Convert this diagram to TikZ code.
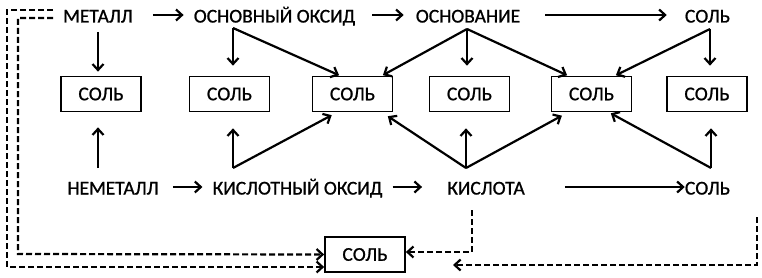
\documentclass[tikz,border=0pt]{standalone}
\usepackage{fontspec}
\setmainfont{Carlito}
\newfontfamily\heavyfont{Carlito}[FakeBold=1]
\usetikzlibrary{arrows.meta,positioning}

\tikzset{
    lbl/.style={inner sep=0pt, text height=16pt, text depth=1pt,
        font=\heavyfont\fontsize{19.5}{21}\selectfont},
    saltbox/.style={draw, line width=1.7pt, minimum width=80pt,
        minimum height=35pt, inner sep=0pt,
        font=\heavyfont\fontsize{19.5}{21}\selectfont},
    arr/.style={line width=2.2pt, -{Straight Barb[length=6pt,width=11pt]}},
    dsh/.style={line width=2.2pt, dash pattern=on 6pt off 3pt,
        -{Straight Barb[length=6pt,width=11pt]}}
}

\begin{document}
\begin{tikzpicture}[x=1pt, y=-1pt]
    \useasboundingbox (0,0) rectangle (762,278);

    % Top row
    \node[lbl] (metal) at (98,15) {МЕТАЛЛ};
    \node[lbl] (oxb) at (274.5,15) {ОСНОВНЫЙ ОКСИД};
    \node[lbl] (base) at (468,15) {ОСНОВАНИЕ};
    \node[lbl] (saltT) at (707.5,15) {СОЛЬ};

    % Bottom row
    \node[lbl] (nonmetal) at (113,187) {НЕМЕТАЛЛ};
    \node[lbl] (oxa) at (297.5,187) {КИСЛОТНЫЙ ОКСИД};
    \node[lbl] (acid) at (486,187) {КИСЛОТА};
    \node[lbl] (saltB) at (707.5,187) {СОЛЬ};

    % Salt boxes
    \node[saltbox] (s1) at (101,94) {СОЛЬ};
    \node[saltbox] (s2) at (229.5,94) {СОЛЬ};
    \node[saltbox] (s3) at (352.5,94) {СОЛЬ};
    \node[saltbox] (s4) at (469.5,94) {СОЛЬ};
    \node[saltbox] (s5) at (591.5,94) {СОЛЬ};
    \node[saltbox] (s6) at (707,94) {СОЛЬ};
    \node[saltbox] (sB) at (365,254.5) {СОЛЬ};

    % Horizontal arrows
    \draw[arr, shorten <=20pt, shorten >=10pt] (metal) -- (oxb);
    \draw[arr, shorten <=17pt, shorten >=12pt] (oxb) -- (base);
    \draw[arr, shorten <=25pt, shorten >=18pt] (base) -- (saltT);
    \draw[arr, shorten <=14pt, shorten >=10pt] (nonmetal) -- (oxa);
    \draw[arr, shorten <=10pt, shorten >=25pt] (oxa) -- (acid);
    \draw[arr, shorten <=40pt, shorten >=0pt] (acid) -- (saltB);

    % Branch points
    \coordinate (metalA) at (98,32);
    \coordinate (oxbA) at (233,28);
    \coordinate (baseA) at (467,29);
    \coordinate (saltTA) at (710,29);
    \coordinate (nonmetalA) at (98,168);
    \coordinate (oxaA) at (233,168);
    \coordinate (acidA) at (466,168);
    \coordinate (saltBA) at (711,168);

    % Top connections
    \draw[arr, shorten >=4pt] (metalA) -- (metalA |- s1.north);
    \draw[arr, shorten >=10pt] (oxbA) -- (oxbA |- s2.north);
    \draw[arr, shorten >=1pt] (oxbA) -- ([xshift=-12.5pt]s3.north);
    \draw[arr, shorten >=1pt] (baseA) -- ([xshift=29.5pt]s3.north);
    \draw[arr, shorten >=10pt] (baseA) -- (baseA |- s4.north);
    \draw[arr, shorten >=1pt] (baseA) -- ([xshift=-23.5pt]s5.north);
    \draw[arr, shorten >=10pt] (saltTA) -- (saltTA |- s6.north);
    \draw[arr, shorten >=1pt] (saltTA) -- ([xshift=23.5pt]s5.north);

    % Bottom connections
    \draw[arr, shorten >=15pt] (nonmetalA) -- (nonmetalA |- s1.south);
    \draw[arr, shorten >=16pt] (oxaA) -- (oxaA |- s2.south);
    \draw[arr, shorten >=6pt] (oxaA) -- ([xshift=-15.5pt]s3.south);
    \draw[arr, shorten >=7pt] (acidA) -- ([xshift=29.5pt]s3.south);
    \draw[arr, shorten >=16pt] (acidA) -- (acidA |- s4.south);
    \draw[arr, shorten >=7pt] (acidA) -- ([xshift=-23.5pt]s5.south);
    \draw[arr, shorten >=16pt] (saltBA) -- (saltBA |- s6.south);
    \draw[arr, shorten >=2pt] (saltBA) -- ([xshift=17.5pt]s5.south);

    % Dashed connections
    \coordinate (outerD) at (53,10);
    \coordinate (innerD) at (53,18);
    \coordinate (acidD) at (472,210);
    \coordinate (rightD) at (757,217);
    \coordinate (rightEnd) at (453,265);
    \draw[dsh] (outerD) -| (7,267) -- ([yshift=-12.5pt]sB.west);
    \draw[dsh] (innerD) -| (18,254) -- (sB.west);
    \draw[dsh] (acidD) |- ([yshift=2.5pt]sB.east);
    \draw[dsh] (rightD) |- (rightEnd);
\end{tikzpicture}
\end{document}
